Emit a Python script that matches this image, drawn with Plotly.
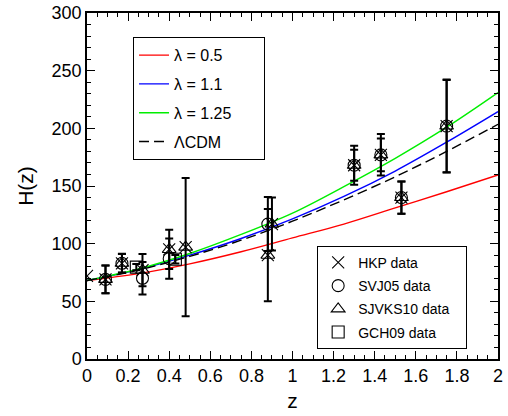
import plotly.graph_objects as go

# Model curves
z_model = [0, 0.25, 0.5, 0.75, 1.0, 1.25, 1.5, 1.75, 2.0]
H_l05 = [68, 74, 82.5, 93, 105, 117, 131, 145, 159.5]
H_l11 = [68, 77.5, 90, 104.5, 121.5, 141, 163, 188, 214.5]
H_l125 = [68, 78, 91.5, 108, 126.5, 149.5, 174, 201, 231]
H_lcdm = [68, 77, 89, 103, 119.5, 138, 158, 180, 203.5]

# Observational data
hkp_z = [0]
hkp_H = [72]

stern_z = [0.09, 0.17, 0.27, 0.4, 0.48, 0.88, 0.9, 1.3, 1.43, 1.53, 1.75]
stern_H = [69, 83, 77, 95, 97, 90, 117, 168, 177, 140, 202]
stern_err = [12, 8, 14, 17, 60, 40, 23, 17, 18, 14, 40]

svj_z = [0.09, 0.17, 0.27, 0.4, 0.88, 1.3, 1.43, 1.53, 1.75]
svj_H = [69, 83, 70, 87, 117, 168, 177, 140, 202]
svj_err = [12, 8.3, 14, 17.4, 23.4, 13.4, 14.2, 14, 40.4]

gch_z = [0.24, 0.43]
gch_H = [79.69, 86.45]
gch_err = [2.65, 3.68]

FONT = "Liberation Sans, Arial, sans-serif"
NB = "\u00a0"

fig = go.Figure()

curves = [
    (H_l05, "#ff0000", "solid", "λ = 0.5"),
    (H_l11, "#0000ff", "solid", "λ = 1.1"),
    (H_l125, "#00ee00", "solid", "λ = 1.25" + NB * 6),
    (H_lcdm, "black", "10px,5px", "ΛCDM"),
]
for i, (H, c, d, name) in enumerate(curves):
    fig.add_trace(go.Scatter(
        x=z_model, y=H, mode="lines", name=name,
        line=dict(color=c, width=1.4, dash=d, shape="spline"),
        legend="legend", legendgroup="c%d" % i,
    ))

err_style = dict(type="data", color="black", thickness=2, width=4)

fig.add_trace(go.Scatter(
    x=hkp_z + stern_z, y=hkp_H + stern_H, mode="markers", name="HKP data",
    marker=dict(symbol="x-thin", size=12, line=dict(color="black", width=1.1), color="black"),
    legend="legend2", legendgroup="d0",
))
fig.add_trace(go.Scatter(
    x=svj_z, y=svj_H, mode="markers", name="SVJ05 data",
    error_y=dict(array=svj_err, **err_style),
    marker=dict(symbol="circle-open", size=12, color="black", line=dict(width=1.1)),
    legend="legend2", legendgroup="d1",
))
fig.add_trace(go.Scatter(
    x=stern_z, y=stern_H, mode="markers", name="SJVKS10 data" + NB * 3,
    error_y=dict(array=stern_err, **err_style),
    marker=dict(symbol="triangle-up-open", size=12, color="black", line=dict(width=1.1)),
    legend="legend2", legendgroup="d2",
))
fig.add_trace(go.Scatter(
    x=gch_z, y=gch_H, mode="markers", name="GCH09 data",
    error_y=dict(array=gch_err, **err_style),
    marker=dict(symbol="square-open", size=12, color="black", line=dict(width=1.1)),
    legend="legend2", legendgroup="d3",
))

axis_common = dict(
    showgrid=False, zeroline=False, showline=True, linecolor="black", linewidth=1.5,
    mirror="allticks", ticks="inside", ticklen=8, tickwidth=1, tickcolor="black",
    tickfont=dict(family=FONT, size=18, color="black"), automargin=False,
)

fig.update_layout(
    width=508, height=416,
    margin=dict(l=87, r=10, t=13, b=57),
    paper_bgcolor="white", plot_bgcolor="white",
    font=dict(family=FONT, color="black"),
    xaxis=dict(range=[0, 2], dtick=0.2, tickformat="~g",
               minor=dict(dtick=0.05, ticklen=4, ticks="inside", tickcolor="black"),
               title=dict(text="z", font=dict(family=FONT, size=21), standoff=8),
               **axis_common),
    yaxis=dict(range=[0, 300], dtick=50,
               minor=dict(dtick=10, ticklen=4, ticks="inside", tickcolor="black"),
               title=dict(text="H(z)", font=dict(family=FONT, size=21), standoff=12),
               **axis_common),
    legend=dict(x=0.112, y=0.93, xanchor="left", yanchor="top",
                bordercolor="black", borderwidth=1, bgcolor="white",
                font=dict(family=FONT, size=16, color="black"),
                traceorder="grouped", tracegroupgap=5),
    legend2=dict(x=0.56, y=0.327, xanchor="left", yanchor="top",
                 bordercolor="black", borderwidth=1, bgcolor="white",
                 font=dict(family=FONT, size=14, color="black"),
                 traceorder="grouped", tracegroupgap=2),
    showlegend=True,
)

fig.write_html(
    "out.html",
    config={"displayModeBar": False},
    post_script="document.body.style.margin='0';document.body.style.overflow='hidden';",
)
